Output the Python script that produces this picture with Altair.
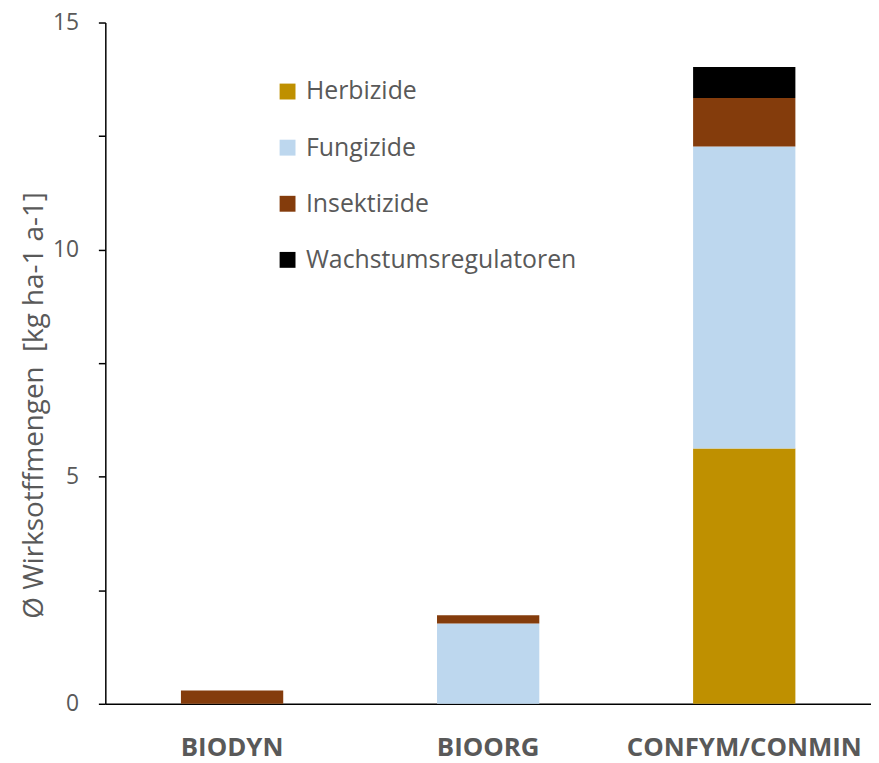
import altair as alt
import pandas as pd

groups = ["BIODYN", "BIOORG", "CONFYM/CONMIN"]
categories = ["Herbizide", "Fungizide", "Insektizide", "Wachstumsregulatoren"]
colors = ["#BF9000", "#BDD7EE", "#843C0C", "#000000"]
herbizide = [0.0, 0.0, 5.62]
fungizide = [0.0, 1.77, 6.65]
insektizide = [0.29, 0.18, 1.07]
wachstum = [0.0, 0.0, 0.68]

series = [herbizide, fungizide, insektizide, wachstum]
rows = []
for ci, (cat, vals) in enumerate(zip(categories, series)):
    for g, v in zip(groups, vals):
        rows.append({"Gruppe": g, "Kategorie": cat, "Wert": v, "idx": ci})
df = pd.DataFrame(rows)

FONT = "Open Sans"
GRAY = "#595959"

chart = alt.Chart(df).mark_bar(size=103).encode(
    x=alt.X("Gruppe:N", sort=groups,
            scale=alt.Scale(paddingInner=0.6, paddingOuter=0.295),
            axis=alt.Axis(title=None, labelAngle=0, ticks=False,
                          labelFont=FONT, labelFontSize=26, labelFontWeight="bold",
                          labelColor=GRAY, labelPadding=31, labelLimit=0,
                          domainColor="#000000", domainWidth=1.5)),
    y=alt.Y("Wert:Q", stack="zero",
            scale=alt.Scale(domain=[0, 15], nice=False),
            axis=alt.Axis(title="Ø Wirksotffmengen\u00a0 [kg ha-1 a-1]",
                          values=[0, 2.5, 5, 7.5, 10, 12.5, 15],
                          labelExpr="datum.value % 5 == 0 ? datum.label : ''",
                          grid=False, tickSize=7, tickColor="#000000", tickWidth=1.5,
                          domainColor="#000000", domainWidth=1.5,
                          labelFont=FONT, labelFontSize=23, labelColor=GRAY,
                          labelPadding=20,
                          titleFont=FONT, titleFontSize=28, titleFontWeight="normal",
                          titleColor=GRAY, titleAngle=-90, titleX=-71, titleY=385,
                          titleAlign="center", titleBaseline="middle")),
    color=alt.Color("Kategorie:N",
                    scale=alt.Scale(domain=categories, range=colors),
                    legend=alt.Legend(title=None, orient="none", legendX=171, legendY=57,
                                      symbolType="square", symbolSize=256,
                                      symbolStrokeWidth=0, labelFont=FONT,
                                      labelFontSize=25, labelColor=GRAY, labelLimit=0,
                                      labelOffset=6, rowPadding=30.5, padding=0)),
    order=alt.Order("idx:Q", sort="ascending"),
).properties(
    width=771, height=686,
    autosize=alt.AutoSizeParams(type="none"),
    padding={"left": 98, "top": 12, "right": 0, "bottom": 57},
).configure_view(stroke=None)

chart.save("out.html", embed_options={"renderer": "svg", "actions": False})
